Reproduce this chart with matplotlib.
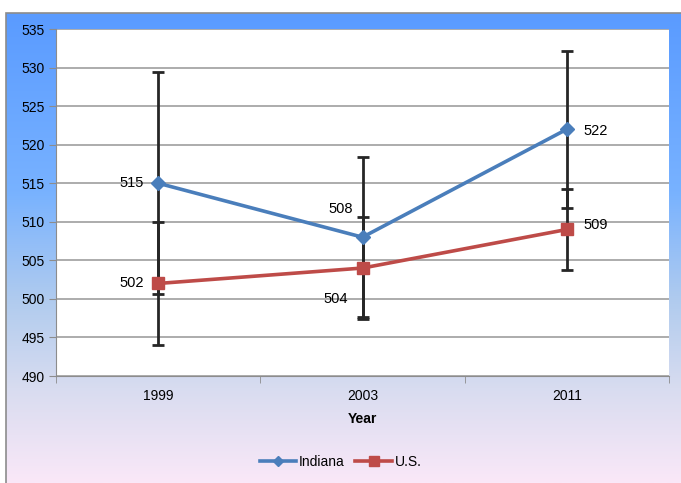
import numpy as np
import matplotlib.pyplot as plt
from matplotlib.colors import LinearSegmentedColormap
from matplotlib.patches import Rectangle

plt.rcParams['font.family'] = ['Liberation Sans', 'DejaVu Sans']

# data
years = ["1999", "2003", "2011"]
indiana = [515, 508, 522]
indiana_err = [14.4, 10.4, 10.2]
us = [502, 504, 509]
us_err = [8.0, 6.6, 5.2]

W, H = 681, 483
fig = plt.figure(figsize=(W / 100, H / 100), dpi=100)

# gradient background of the chart area (blue at top, pink at bottom)
bg = fig.add_axes([6 / W, 0, 1 - 6 / W, 1 - 13 / H], zorder=-10)
cmap = LinearSegmentedColormap.from_list(
    "bg", [(0.0, "#5A9BFF"), (0.38, "#78B2FF"), (0.62, "#B2CCEE"),
           (0.8, "#D8DCF0"), (1.0, "#FAE8F8")])
grad = np.linspace(0, 1, 256).reshape(-1, 1)
bg.imshow(grad, aspect="auto", cmap=cmap, extent=[0, 1, 0, 1], origin="upper")
bg.axis("off")
fig.patches.append(Rectangle((6 / W, -0.01), 1, 1 - 13 / H + 0.01,
                             transform=fig.transFigure, fill=False,
                             edgecolor="#8C8C8C", linewidth=1.2, zorder=-5))

ax = fig.add_axes([56 / W, 1 - 376 / H, (669 - 56) / W, (376 - 29) / H])
ax.set_facecolor("white")
x = np.arange(len(years))

ax.errorbar(x, indiana, yerr=indiana_err, fmt="none", ecolor="#262626",
            elinewidth=2, capsize=4, capthick=2, zorder=3)
ax.errorbar(x, us, yerr=us_err, fmt="none", ecolor="#262626",
            elinewidth=2, capsize=4, capthick=2, zorder=3)
ax.plot(x, indiana, color="#4A7EBB", lw=2.6, marker="D", markersize=7,
        label="Indiana", zorder=4)
ax.plot(x, us, color="#BE4B48", lw=2.6, marker="s", markersize=9,
        label="U.S.", zorder=4)

# data labels
ind_off = [(-19, 0), (-16, 20), (21, -1.5)]
us_off = [(-19, 0), (-19, -22), (21, 3.5)]
for i in range(len(years)):
    ax.annotate(str(indiana[i]), (x[i], indiana[i]), xytext=ind_off[i],
                textcoords="offset points", ha="center", va="center", fontsize=10.5)
    ax.annotate(str(us[i]), (x[i], us[i]), xytext=us_off[i],
                textcoords="offset points", ha="center", va="center", fontsize=10.5)

ax.set_xlim(-0.5, 2.5)
ax.set_ylim(490, 535)
ax.set_yticks(np.arange(490, 536, 5))
ax.set_xticks(x)
ax.set_xticklabels(years)
ax.set_xticks([-0.5, 0.5, 1.5, 2.5], minor=True)
ax.tick_params(axis="x", which="major", length=0, pad=9, labelsize=10)
ax.tick_params(axis="x", which="minor", length=5, color="#8C8C8C")
ax.tick_params(axis="y", length=5, color="#8C8C8C", labelsize=10, pad=3)
ax.grid(axis="y", color="#A6A6A6", lw=1.3, zorder=1)
for s in ["top", "right"]:
    ax.spines[s].set_visible(False)
ax.spines["left"].set_color("#8C8C8C")
ax.spines["bottom"].set_color("#8C8C8C")
ax.set_xlabel("Year", fontweight="bold", fontsize=10, labelpad=7)

fig.legend(loc="center", bbox_to_anchor=(0.5, 1 - 462 / H), ncol=2,
           frameon=False, fontsize=10, handlelength=2.6, columnspacing=0.8,
           handletextpad=0.2, markerscale=0.8)

plt.savefig("out.png", dpi=100)
